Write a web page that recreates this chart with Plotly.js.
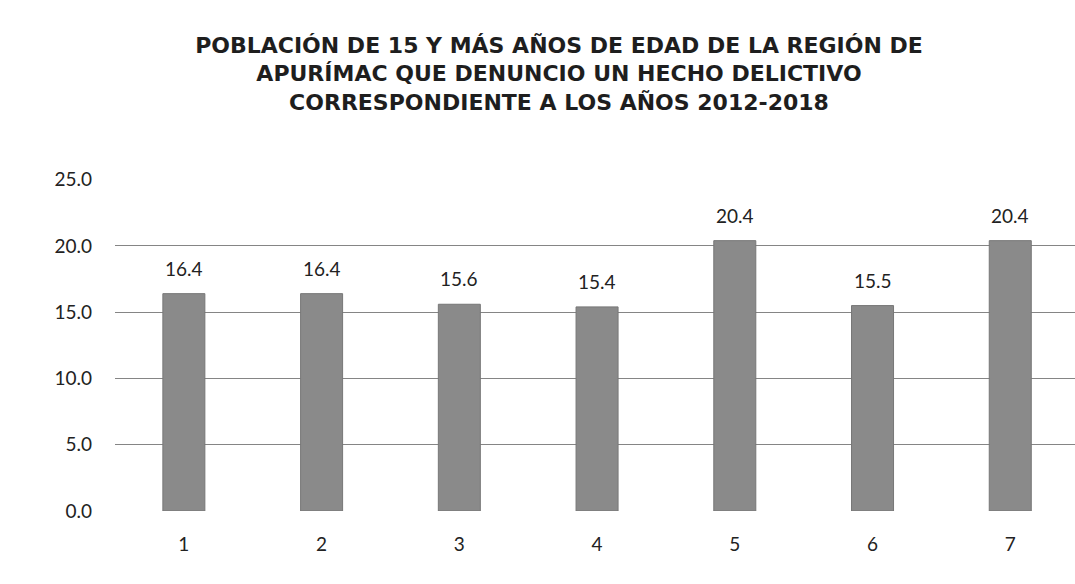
<!DOCTYPE html>
<html>
<head>
<meta charset="utf-8">
<script src="https://cdn.plot.ly/plotly-3.0.1.min.js"></script>
<style>html,body{margin:0;padding:0;background:#fff;}#chart{width:1075px;height:584px;}</style>
</head>
<body>
<div id="chart"></div>
<script>
const categories = [1, 2, 3, 4, 5, 6, 7];
const values = [16.4, 16.4, 15.6, 15.4, 20.4, 15.5, 20.4];
const valueLabels = ["16.4", "16.4", "15.6", "15.4", "20.4", "15.5", "20.4"];
const yTicks = [0, 5, 10, 15, 20, 25];

const trace = {
  type: 'bar',
  x: categories,
  y: values,
  width: 0.305,
  marker: {color: '#8a8a8a', line: {color: '#777777', width: 1}},
  hoverinfo: 'skip'
};

const annotations = categories.map((c, i) => ({
  x: c, y: values[i], xref: 'x', yref: 'y',
  text: valueLabels[i], showarrow: false,
  yanchor: 'bottom', yshift: 12,
  font: {family: 'Lato, "Noto Sans", sans-serif', size: 19, color: '#222'}
}));

const layout = {
  width: 1075, height: 584,
  paper_bgcolor: '#ffffff', plot_bgcolor: '#ffffff',
  margin: {l: 115, r: 0, t: 179, b: 72.5},
  showlegend: false,
  title: {
    text: 'POBLACIÓN DE 15 Y MÁS AÑOS DE EDAD DE LA REGIÓN DE<br>APURÍMAC QUE DENUNCIO UN HECHO DELICTIVO<br>CORRESPONDIENTE A LOS AÑOS 2012-2018',
    x: 0.52, xanchor: 'center', y: 0.91, yanchor: 'top',
    font: {family: '"DejaVu Sans", "Liberation Sans", sans-serif', size: 22, color: '#1e1e1e', weight: 'bold'}
  },
  xaxis: {
    range: [0.5, 7.47],
    tickvals: categories, ticktext: categories.map(String),
    showgrid: false, zeroline: false, showline: false, ticks: '',
    tickfont: {family: 'Lato, "Noto Sans", sans-serif', size: 19, color: '#222'},
    ticklabelstandoff: 20
  },
  yaxis: {
    range: [0, 25.05],
    tickvals: yTicks, ticktext: yTicks.map(v => v.toFixed(1)),
    showgrid: true, gridcolor: '#858585', gridwidth: 1,
    zeroline: false, showline: false, ticks: '',
    tickfont: {family: 'Lato, "Noto Sans", sans-serif', size: 19, color: '#222'},
    ticklabelstandoff: 22
  },
  annotations: annotations
};

Plotly.newPlot('chart', [trace], layout, {staticPlot: true, displayModeBar: false});
</script>
</body>
</html>
